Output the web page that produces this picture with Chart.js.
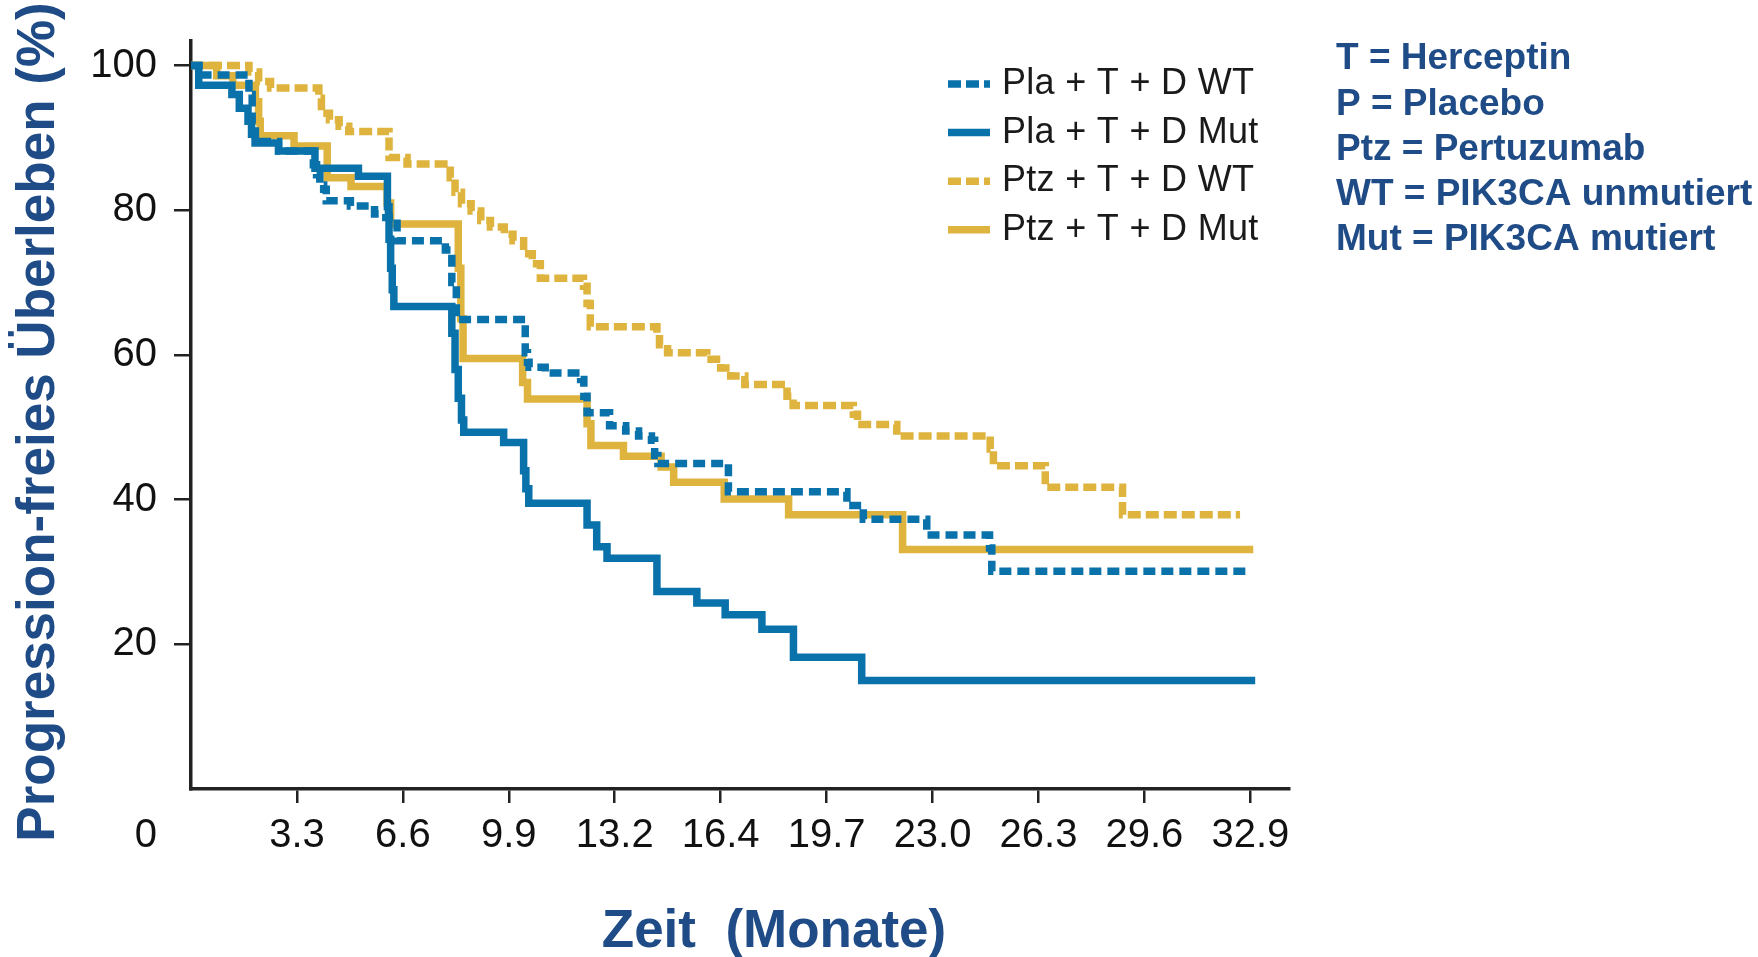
<!DOCTYPE html>
<html lang="de">
<head>
<meta charset="utf-8">
<title>Progression-freies Überleben</title>
<script src="https://cdn.jsdelivr.net/npm/chart.js@4.4.1/dist/chart.umd.min.js"></script>
<style>
  html, body { margin: 0; padding: 0; background: #fff; }
  #wrap { width: 1758px; height: 957px; }
</style>
</head>
<body>
<div id="wrap"><canvas id="pfs" width="1758" height="957"></canvas></div>
<script>
// Kaplan-Meier Kurven (Monate / %)
const plaWtTime = [0, 0.25, 1.8, 1.9, 2.0, 2.72, 3.8, 3.9, 4.0, 4.12, 4.2, 4.95, 5.7, 6.05, 6.4, 7.9, 8.1, 8.24, 10.38, 10.45,
  10.5, 11.0, 12.1, 12.2, 12.3, 13.0, 13.5, 13.9, 14.3, 14.4, 14.5, 16.69, 20.37, 20.88, 22.85, 24.8, 24.87, 32.89];
const plaWtValue = [100, 98.7, 96.0, 92.0, 89.5, 88.2, 86.3, 84.9, 83.5, 82.9, 81.3, 80.6, 79.5, 79.0, 75.8, 74.5, 70.0, 64.9, 60.3, 59.0,
  58.3, 57.5, 56.6, 54.3, 52.0, 50.2, 49.5, 48.8, 48.2, 46.1, 45.0, 41.1, 39.2, 37.3, 35.1, 33.3, 30.1, 30.1];

const plaMutTime = [0, 0.24, 1.27, 1.5, 1.77, 1.88, 1.99, 2.72, 3.85, 5.2, 6.1, 6.15, 6.2, 6.25, 6.3, 8.1, 8.2, 8.3, 8.4, 8.47,
  9.71, 10.33, 10.4, 10.49, 12.3, 12.6, 12.92, 14.47, 15.71, 16.59, 17.73, 18.71, 20.83, 33.05];
const plaMutValue = [100, 97.3, 96.0, 94.1, 92.3, 90.5, 89.3, 88.2, 85.8, 84.7, 80.5, 76.0, 72.0, 69.0, 66.7, 63.0, 58.0, 54.0, 51.0, 49.3,
  47.9, 44.0, 41.5, 39.5, 36.5, 33.5, 31.9, 27.3, 25.7, 24.1, 22.1, 18.2, 15.0, 15.0];

const ptzWtTime = [0, 1.8, 2.1, 2.47, 3.97, 4.05, 4.3, 4.6, 4.9, 6.15, 6.71, 8.05, 8.2, 8.4, 8.7, 9.0, 9.3, 9.73, 10.0, 10.33,
  10.6, 10.85, 12.19, 12.3, 12.4, 14.47, 14.55, 14.8, 16.02, 16.45, 16.76, 17.2, 18.51, 18.7, 20.57, 20.7, 21.92, 24.82, 24.92, 26.53,
  28.93, 32.58];
const ptzWtValue = [100, 99.1, 97.8, 96.9, 95.5, 93.4, 92.5, 91.6, 90.9, 87.3, 86.4, 84.5, 82.5, 80.9, 79.9, 78.6, 77.7, 76.7, 75.8, 74.0,
  72.6, 70.6, 69.5, 67.1, 63.9, 63.0, 61.4, 60.3, 59.4, 58.2, 57.1, 55.9, 54.3, 53.0, 51.8, 50.4, 48.8, 47.0, 44.7, 41.7,
  37.9, 37.9];

const ptzMutTime = [0, 0.8, 1.3, 2.0, 2.1, 2.15, 3.2, 4.23, 4.97, 6.09, 6.2, 8.3, 8.38, 8.45, 10.3, 10.45, 12.3, 12.42, 13.43, 14.6,
  14.99, 16.56, 18.56, 22.1, 32.99];
const ptzMutValue = [100, 98.6, 97.3, 95.0, 92.3, 90.3, 88.9, 84.5, 83.3, 81.0, 78.1, 72.0, 65.0, 59.5, 56.2, 53.9, 50.5, 47.5, 46.0, 44.5,
  42.4, 40.1, 37.9, 33.1, 33.1];

const seriesLabels = ["Pla + T + D WT", "Pla + T + D Mut", "Ptz + T + D WT", "Ptz + T + D Mut"];

const xTickValues = [3.29, 6.58, 9.87, 13.16, 16.45, 19.74, 23.03, 26.32, 29.61, 32.9];
const xTickLabels = ["3.3", "6.6", "9.9", "13.2", "16.4", "19.7", "23.0", "26.3", "29.6", "32.9"];
const yTickValues = [20, 40, 60, 80, 100];
const originLabel = "0";

const xTitle = "Zeit  (Monate)";
const yTitle = "Progression-freies Überleben (%)";
const notes = [
  "T = Herceptin",
  "P = Placebo",
  "Ptz = Pertuzumab",
  "WT = PIK3CA unmutiert",
  "Mut = PIK3CA mutiert"
];

const BLUE = "#0a72aa";
const GOLD = "#deb43e";
const NAVY = "#1f4b86";
const FONT = "'Liberation Sans', Arial, Helvetica, sans-serif";

function toPoints(times, values) {
  return times.map((t, i) => ({ x: t, y: values[i] }));
}

function curve(label, times, values, color, dash) {
  return {
    label: label,
    data: toPoints(times, values),
    borderColor: color,
    backgroundColor: color,
    borderWidth: 7.5,
    borderDash: dash,
    borderCapStyle: "butt",
    borderJoinStyle: "miter",
    stepped: "before",
    pointRadius: 0,
    fill: false,
    tension: 0
  };
}

// Legende, Achsentitel, Ursprung "0" und Abkürzungen
const extras = {
  id: "extras",
  afterDraw(chart) {
    const ctx = chart.ctx;
    ctx.save();

    ctx.fillStyle = "#111";
    ctx.font = "40px " + FONT;
    ctx.textAlign = "right";
    ctx.textBaseline = "middle";
    ctx.fillText(originLabel, 157, 836);

    // Legende
    ctx.font = "36px " + FONT;
    ctx.textAlign = "left";
    ctx.letterSpacing = "0.3px";
    chart.data.datasets.forEach((ds, i) => {
      const yy = 84 + i * 48.6;
      ctx.beginPath();
      ctx.strokeStyle = ds.borderColor;
      ctx.lineWidth = 7.5;
      ctx.lineCap = "butt";
      ctx.setLineDash(ds.borderDash.length ? [13, 5] : []);
      ctx.moveTo(948, yy);
      ctx.lineTo(990, yy);
      ctx.stroke();
      ctx.setLineDash([]);
      ctx.fillStyle = "#1a1a1a";
      ctx.fillText(ds.label, 1002, yy);
    });
    ctx.letterSpacing = "0px";

    // Abkürzungen
    ctx.fillStyle = NAVY;
    ctx.font = "bold 37px " + FONT;
    notes.forEach((line, i) => {
      ctx.fillText(line, 1336, 59 + i * 45.3);
    });

    // Achsentitel
    ctx.font = "bold 53px " + FONT;
    ctx.textAlign = "center";
    ctx.textBaseline = "alphabetic";
    ctx.fillText(xTitle, 774, 947);

    ctx.translate(54, 422);
    ctx.rotate(-Math.PI / 2);
    ctx.fillText(yTitle, 0, 0);

    ctx.restore();
  }
};

new Chart(document.getElementById("pfs"), {
  type: "line",
  data: {
    datasets: [
      curve(seriesLabels[0], plaWtTime, plaWtValue, BLUE, [12, 6]),
      curve(seriesLabels[1], plaMutTime, plaMutValue, BLUE, []),
      curve(seriesLabels[2], ptzWtTime, ptzWtValue, GOLD, [13, 5]),
      curve(seriesLabels[3], ptzMutTime, ptzMutValue, GOLD, [])
    ]
  },
  options: {
    responsive: false,
    animation: false,
    devicePixelRatio: 1,
    layout: {
      padding: { left: 0, top: 36, right: 469, bottom: 0 }
    },
    plugins: {
      legend: { display: false },
      tooltip: { enabled: false }
    },
    scales: {
      x: {
        type: "linear",
        min: 0,
        max: 34.1,
        afterBuildTicks: scale => {
          scale.ticks = xTickValues.map(v => ({ value: v }));
        },
        afterFit: scale => {
          scale.height = 168;
        },
        ticks: {
          autoSkip: false,
          maxRotation: 0,
          padding: 9,
          color: "#111",
          font: { family: FONT, size: 40 },
          callback: (value, index) => xTickLabels[index]
        },
        grid: {
          drawOnChartArea: false,
          drawTicks: true,
          tickLength: 14,
          tickColor: "#222",
          lineWidth: 2.5
        },
        border: { display: true, color: "#222", width: 3.5 }
      },
      y: {
        type: "linear",
        min: 0,
        max: 103.4,
        afterBuildTicks: scale => {
          scale.ticks = yTickValues.map(v => ({ value: v }));
        },
        afterFit: scale => {
          scale.width = 191;
        },
        ticks: {
          padding: 17,
          color: "#111",
          font: { family: FONT, size: 40 },
          callback: value => String(value)
        },
        grid: {
          drawOnChartArea: false,
          drawTicks: true,
          tickLength: 17,
          tickColor: "#222",
          lineWidth: 2.5
        },
        border: { display: true, color: "#222", width: 3.5 }
      }
    }
  },
  plugins: [extras]
});
</script>
</body>
</html>
